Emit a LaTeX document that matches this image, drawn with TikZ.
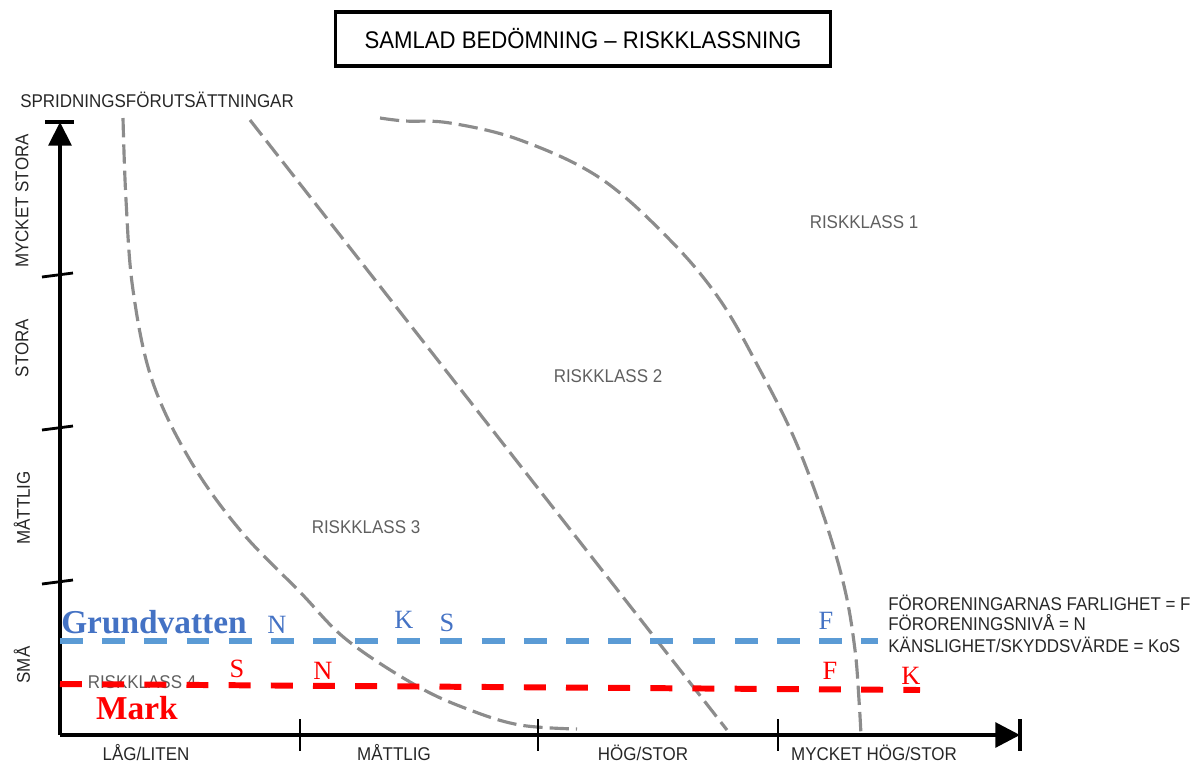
\documentclass[tikz,border=0pt]{standalone}
\usepackage{fontspec}
\setmainfont{Liberation Serif}
\newfontfamily\narrowsans[FakeStretch=0.92,Ligatures=TeX]{Liberation Sans}
\usetikzlibrary{arrows.meta,positioning}
\definecolor{zonegray}{RGB}{140,140,140}
\definecolor{klassgray}{RGB}{95,95,95}
\definecolor{gwline}{RGB}{91,155,213}
\definecolor{gwtext}{RGB}{68,114,196}

\begin{document}
\begin{tikzpicture}[x=0.02cm,y=-0.02cm,
		axis/.style={line width=2.2pt,black},
		zone/.style={zonegray,line width=1.8pt,dash pattern=on 11pt off 4pt},
		caption/.style={font=\narrowsans\fontsize{10.5}{12}\selectfont,text=black!85,inner sep=0pt},
		klass/.style={font=\narrowsans\fontsize{10.5}{12}\selectfont,text=klassgray,inner sep=0pt},
		medium/.style={font=\bfseries\fontsize{19}{21}\selectfont,inner sep=0pt},
		letter/.style={font=\fontsize{15}{17}\selectfont,inner sep=0pt}]
	\useasboundingbox (0,0) rectangle (1200,765);
	% rubrik
	\node[draw,line width=2pt,minimum width=9.9cm,minimum height=1.08cm,
		font=\narrowsans\fontsize{13.7}{16}\selectfont] (title) at (583,39) {SAMLAD BEDÖMNING – RISKKLASSNING};
	% zongranser
	\draw[zone] plot[smooth,tension=0.6] coordinates {(123,118) (126,200) (133,290) (152,380) (190,460) (240,530) (300,592) (347,640) (417,686) (470,710) (520,725) (577,729)};
	\draw[zone] (250,120) -- (727,730);
	\draw[zone] plot[smooth,tension=0.6] coordinates {(380,118) (405,121) (450,123) (520,140) (600,178) (670,240) (720,300) (760,370) (795,440) (825,520) (845,590) (855,650) (859,700) (861,735)};
	\node[klass] (rk1) at (864,222) {RISKKLASS 1};
	\node[klass] (rk2) at (608,376) {RISKKLASS 2};
	\node[klass] (rk3) at (366,527) {RISKKLASS 3};
	\node[klass] (rk4) at (142,682) {RISKKLASS 4};
	% axlar
	\coordinate (origin) at (60,735);
	\coordinate (ytop) at (60,122);
	\coordinate (xend) at (1020,735);
	\draw[axis,-{Triangle[length=13.5pt,width=13pt]}] (origin) -- (ytop);
	\draw[axis,-{Triangle[length=14pt,width=14pt]}] (origin) -- (xend);
	\draw[axis] (45,122) -- (74,122);
	\draw[axis] (1020,719) -- (1020,751);
	\foreach \y in {275,428,582}
		\draw[line width=1.6pt] (42,\y+2) -- (73,\y-2);
	\foreach \x in {300,538,778}
		\draw[line width=1.6pt] (\x,719) -- (\x,751);
	\node[caption,anchor=west] (ylabel) at (20,100) {SPRIDNINGSFÖRUTSÄTTNINGAR};
	\node[caption,rotate=90] (y1) at (22,201) {MYCKET STORA};
	\node[caption,rotate=90] (y2) at (22,348) {STORA};
	\node[caption,rotate=90] (y3) at (22,508) {MÅTTLIG};
	\node[caption,rotate=90] (y4) at (22,665) {SMÅ};
	\node[caption] (x1) at (146,753) {LÅG/LITEN};
	\node[caption] (x2) at (394,753) {MÅTTLIG};
	\node[caption] (x3) at (643,753) {HÖG/STOR};
	\node[caption] (x4) at (874,753) {MYCKET HÖG/STOR};
	% grundvatten och mark
	\coordinate (gw0) at (60,641);
	\coordinate (gw1) at (878,641);
	\coordinate (mk0) at (60,684);
	\coordinate (mk1) at (920,690);
	\draw[gwline,line width=3.4pt,dash pattern=on 13pt off 11pt] (gw0) -- (gw1);
	\draw[red,line width=3.4pt,dash pattern=on 12.5pt off 11.5pt] (mk0) -- (mk1);
	\node[medium,text=gwtext] (gw) at (154,622) {Grundvatten};
	\node[medium,text=red] (mark) at (137,708) {Mark};
	\node[letter,text=gwtext] (gwN) at (277,625) {N};
	\node[letter,text=gwtext] (gwK) at (404,620) {K};
	\node[letter,text=gwtext] (gwS) at (447,623) {S};
	\node[letter,text=gwtext] (gwF) at (826,621) {F};
	\node[letter,text=red] (mkS) at (237,669) {S};
	\node[letter,text=red] (mkN) at (323,671) {N};
	\node[letter,text=red] (mkF) at (830,671) {F};
	\node[letter,text=red] (mkK) at (911,676) {K};
	% förklaring
	\node[caption,anchor=west] (leg1) at (888,603) {FÖRORENINGARNAS FARLIGHET = F};
	\node[caption,anchor=west] (leg2) at (888,623) {FÖRORENINGSNIVÅ = N};
	\node[caption,anchor=west] (leg3) at (888,645) {KÄNSLIGHET/SKYDDSVÄRDE = KoS};
\end{tikzpicture}
\end{document}
